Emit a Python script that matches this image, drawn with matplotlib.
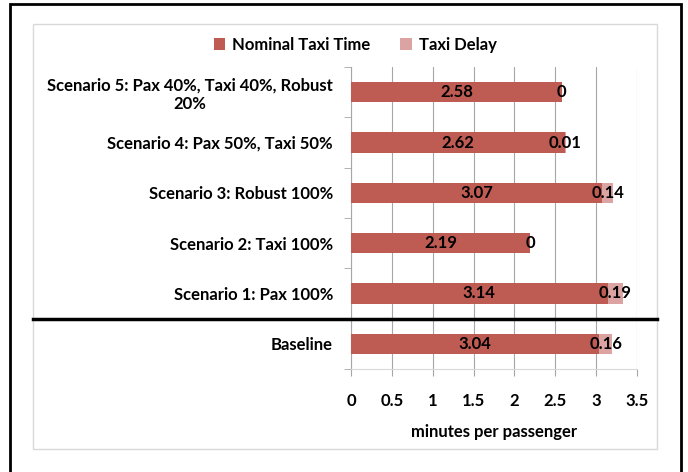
import numpy as np
import matplotlib.pyplot as plt
from matplotlib.patches import Rectangle
from matplotlib.lines import Line2D

categories = ["Baseline",
              "Scenario 1: Pax 100%",
              "Scenario 2: Taxi 100%",
              "Scenario 3: Robust 100%",
              "Scenario 4: Pax 50%, Taxi 50%",
              "Scenario 5: Pax 40%, Taxi 40%, Robust\n20%"]
nominal = [3.04, 3.14, 2.19, 3.07, 2.62, 2.58]
delay = [0.16, 0.19, 0.00, 0.14, 0.01, 0.00]
xticks = [0, 0.5, 1, 1.5, 2, 2.5, 3, 3.5]
xtick_labels = ["0", "0.5", "1", "1.5", "2", "2.5", "3", "3.5"]

c_nom = "#BE5B53"
c_del = "#DBA3A2"
fs = 12
plt.rcParams['font.family'] = ["Lato", "DejaVu Sans"]
plt.rcParams['font.weight'] = 'bold'

W, H = 688, 472
fig = plt.figure(figsize=(W / 100, H / 100), dpi=100)
ax = fig.add_axes([351 / W, 1 - 369 / H, (637 - 351) / W, (369 - 67) / H])

y = np.arange(len(categories))
b1 = ax.barh(y, nominal, height=0.4, color=c_nom, label="Nominal Taxi Time", zorder=3)
b2 = ax.barh(y, delay, left=nominal, height=0.4, color=c_del, label="Taxi Delay", zorder=3)

for i in range(len(categories)):
    ax.text(nominal[i] / 2, y[i], f"{nominal[i]:.2f}", ha="center", va="center",
            fontsize=fs, fontweight="bold", zorder=4)
    lab = "0" if delay[i] == 0 else f"{delay[i]:.2f}"
    ax.text(nominal[i] + delay[i] / 2, y[i], lab, ha="center", va="center",
            fontsize=fs, fontweight="bold", zorder=4)

ax.set_xlim(0, 3.5)
ax.set_ylim(-0.5, len(categories) - 0.5)
ax.set_xticks(xticks)
ax.set_xticklabels(xtick_labels, fontsize=fs, fontweight="bold")
ax.set_yticks(y)
ax.set_yticklabels(categories, fontsize=fs, fontweight="bold")
for t in ax.get_yticklabels():
    t.set_multialignment("center")
ax.set_yticks(np.arange(-0.5, len(categories), 1), minor=True)
ax.tick_params(axis="y", which="major", length=0, pad=13)
ax.tick_params(axis="y", which="minor", length=5, color="#A6A6A6", direction="out")
ax.tick_params(axis="x", length=5, color="#A6A6A6", pad=12)
ax.grid(axis="x", color="#A6A6A6", linewidth=0.8, zorder=0)
for s in ["top", "right"]:
    ax.spines[s].set_visible(False)
ax.spines["left"].set_color("#A6A6A6")
ax.spines["bottom"].set_color("#D9D9D9")
ax.set_xlabel("minutes per passenger", fontsize=fs, fontweight="bold", labelpad=11)

fig.legend(handles=[b1, b2], loc="center", bbox_to_anchor=(355 / W, 1 - 45 / H),
           ncol=2, frameon=False, fontsize=fs, handlelength=0.7, handleheight=0.7,
           columnspacing=1.8, handletextpad=0.4)

# outer black frame and inner chart-area frame
fig.patches.append(Rectangle((10 / W, -0.02), (681 - 10) / W, 1.02 - 4 / H,
                             transform=fig.transFigure, fill=False,
                             edgecolor="black", linewidth=2))
fig.patches.append(Rectangle((33 / W, 1 - 449 / H), (657 - 33) / W, (449 - 24) / H,
                             transform=fig.transFigure, fill=False,
                             edgecolor="#D9D9D9", linewidth=1))
# separator between baseline and scenarios
fig.lines.append(Line2D([33 / W, 657 / W], [1 - 319 / H, 1 - 319 / H],
                        transform=fig.transFigure, color="black", linewidth=2.5))

fig.savefig("out.png", dpi=100)
